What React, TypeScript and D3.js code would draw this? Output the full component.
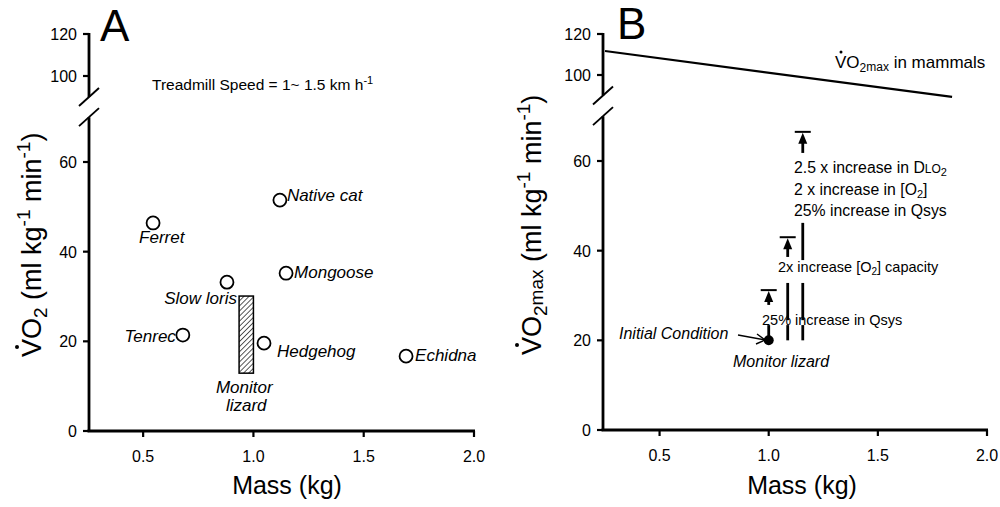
import React from 'react';
import * as d3 from 'd3';

const W = 1000;
const H = 507;
const FONT = "'Liberation Sans', Arial, Helvetica, sans-serif";

// ---------- Panel A data ----------
const speciesNames = ['Ferret', 'Native cat', 'Mongoose', 'Slow loris', 'Tenrec', 'Hedgehog', 'Echidna'];
const speciesMass = [0.545, 1.12, 1.148, 0.88, 0.68, 1.048, 1.692];
const speciesVO2 = [46.4, 51.5, 35.2, 33.2, 21.4, 19.6, 16.7];
const monitorMassRange = [0.935, 1.0];
const monitorVO2Range = [12.9, 30.1];

// ---------- Panel B data ----------
const mammalMass = [0.25, 1.84];
const mammalVO2max = [111.7, 89.3];
const lizardMass = 1.0;
const lizardVO2max = 20;
const stepMass = [1.0, 1.087, 1.156];
const stepTop = [31.2, 43.0, 66.5];
const stepSegments: number[][][] = [
  [[20, 23.4], [27.9, 31.2]],
  [[20, 23.4], [24.5, 32.8], [38.6, 43.0]],
  [[20, 23.4], [24.5, 32.8], [37.9, 46.2], [61.8, 66.5]],
];

// ---------- Axes ----------
const xDomain = [0.25, 2.0];
const xTicks = [0.5, 1.0, 1.5, 2.0];
const yTicksLower = [0, 20, 40, 60];
const yTicksUpper = [100, 120];
const lowerDomain = [0, 70];
const upperDomain = [90, 120];

// label layout (offsets from the data point, in px)
const labelLayout: Record<string, { dx: number; dy: number; anchor: string }> = {
  'Ferret': { dx: -14, dy: 20, anchor: 'start' },
  'Native cat': { dx: 7, dy: 1, anchor: 'start' },
  'Mongoose': { dx: 8, dy: 5, anchor: 'start' },
  'Slow loris': { dx: 10, dy: 22, anchor: 'end' },
  'Tenrec': { dx: -7, dy: 7, anchor: 'end' },
  'Hedgehog': { dx: 13, dy: 14, anchor: 'start' },
  'Echidna': { dx: 9, dy: 5, anchor: 'start' },
};

function makePanel(x0: number, x1: number, yZero: number, y60: number, y100: number, y120: number) {
  const x = d3.scaleLinear().domain(xDomain).range([x0, x1]);
  const yLow = d3.scaleLinear().domain([0, 60]).range([yZero, y60]);
  const yUp = d3.scaleLinear().domain([100, 120]).range([y100, y120]);
  return { x, yLow, yUp };
}

function Axes({ p, axisX }: { p: any; axisX: number }) {
  const { x, yLow, yUp } = p;
  const yBot = yLow(0);
  const lowTop = yLow(lowerDomain[1]);
  const upBot = yUp(upperDomain[0]);
  const upTop = yUp(120);
  const sw = 2.8;
  return (
    <g>
      <line x1={axisX - 1.5} x2={x(2.0) + 1} y1={yBot} y2={yBot} stroke="#000" strokeWidth={sw} />
      {xTicks.map((t) => (
        <g key={t}>
          <line x1={x(t)} x2={x(t)} y1={yBot} y2={yBot + 6} stroke="#000" strokeWidth={2.2} />
          <text x={x(t)} y={yBot + 31} textAnchor="middle" fontSize={16} fontFamily={FONT}>
            {t.toFixed(1)}
          </text>
        </g>
      ))}
      <line x1={axisX} x2={axisX} y1={yBot} y2={lowTop} stroke="#000" strokeWidth={sw} />
      <line x1={axisX} x2={axisX} y1={upTop - 1} y2={upBot} stroke="#000" strokeWidth={sw} />
      <line x1={axisX - 10} y1={upBot + 9} x2={axisX + 10} y2={upBot - 9} stroke="#000" strokeWidth={1.9} />
      <line x1={axisX - 10} y1={lowTop + 9} x2={axisX + 10} y2={lowTop - 9} stroke="#000" strokeWidth={1.9} />
      {yTicksLower.map((t) => (
        <g key={t}>
          <line x1={axisX - 6} x2={axisX} y1={yLow(t)} y2={yLow(t)} stroke="#000" strokeWidth={2.2} />
          <text x={axisX - 12} y={yLow(t) + 6} textAnchor="end" fontSize={16} fontFamily={FONT}>
            {t}
          </text>
        </g>
      ))}
      {yTicksUpper.map((t) => (
        <g key={t}>
          <line x1={axisX - 6} x2={axisX} y1={yUp(t)} y2={yUp(t)} stroke="#000" strokeWidth={2.2} />
          <text x={axisX - 12} y={yUp(t) + 6} textAnchor="end" fontSize={16} fontFamily={FONT}>
            {t}
          </text>
        </g>
      ))}
      <text x={(x(0.25) + x(2.0)) / 2 + 6} y={494} textAnchor="middle" fontSize={25} fontFamily={FONT}>
        Mass (kg)
      </text>
    </g>
  );
}

function YTitle({ bx, by, max }: { bx: number; by: number; max: boolean }) {
  const fs = 27;
  const sm = 19;
  return (
    <g transform={`translate(${bx},${by}) rotate(-90)`}>
      <text x={0} y={0} fontSize={fs} fontFamily={FONT}>
        <tspan>VO</tspan>
        <tspan fontSize={sm} dy={6}>2</tspan>
        {max ? (
          <>
            <tspan fontSize={sm} dy={-4}>max</tspan>
            <tspan dy={-2}> (ml kg</tspan>
          </>
        ) : (
          <tspan dy={-6}> (ml kg</tspan>
        )}
        <tspan fontSize={sm} dy={-11}>-1</tspan>
        <tspan dy={11}> min</tspan>
        <tspan fontSize={sm} dy={-11}>-1</tspan>
        <tspan dy={11}>)</tspan>
      </text>
      <circle cx={10} cy={-24} r={2} fill="#000" />
    </g>
  );
}

export default function App() {
  const A = makePanel(88, 474, 431, 162, 76, 34);
  const B = makePanel(605, 987, 430, 161, 75, 34);
  const axisXA = 89;
  const axisXB = 603;

  const mammalLine = d3
    .line<number>()
    .x((_, i) => B.x(mammalMass[i]))
    .y((v) => B.yUp(v));

  return (
    <svg
      width={W}
      height={H}
      viewBox={`0 0 ${W} ${H}`}
      style={{ position: 'absolute', left: 0, top: 0, background: '#fff' }}
      fontFamily={FONT}
    >
      <defs>
        <pattern id="hatch" patternUnits="userSpaceOnUse" width={3.6} height={3.6} patternTransform="rotate(45)">
          <line x1={0} y1={0} x2={0} y2={3.6} stroke="#000" strokeWidth={1.3} />
        </pattern>
      </defs>
      <rect x={0} y={0} width={W} height={H} fill="#fff" />

      {/* ================= Panel A ================= */}
      <text x={100} y={41} fontSize={44} fontFamily={FONT}>A</text>
      <Axes p={A} axisX={axisXA} />
      <YTitle bx={41} by={357} max={false} />
      <text x={152} y={90} fontSize={15.5} fontFamily={FONT}>
        Treadmill Speed = 1~ 1.5 km h<tspan fontSize={11} dy={-6}>-1</tspan>
      </text>

      <rect
        x={A.x(monitorMassRange[0])}
        y={A.yLow(monitorVO2Range[1])}
        width={A.x(monitorMassRange[1]) - A.x(monitorMassRange[0])}
        height={A.yLow(monitorVO2Range[0]) - A.yLow(monitorVO2Range[1])}
        fill="url(#hatch)"
        stroke="#000"
        strokeWidth={1.5}
      />
      <text
        x={(A.x(monitorMassRange[0]) + A.x(monitorMassRange[1])) / 2 - 2}
        y={A.yLow(monitorVO2Range[0]) + 20}
        textAnchor="middle"
        fontSize={17}
        fontStyle="italic"
      >
        Monitor
      </text>
      <text
        x={(A.x(monitorMassRange[0]) + A.x(monitorMassRange[1])) / 2}
        y={A.yLow(monitorVO2Range[0]) + 38}
        textAnchor="middle"
        fontSize={17}
        fontStyle="italic"
      >
        lizard
      </text>

      {speciesNames.map((n, i) => {
        const cx = A.x(speciesMass[i]);
        const cy = A.yLow(speciesVO2[i]);
        const L = labelLayout[n];
        return (
          <g key={n}>
            <circle cx={cx} cy={cy} r={6.5} fill="#fff" stroke="#000" strokeWidth={1.8} />
            <text x={cx + L.dx} y={cy + L.dy} textAnchor={L.anchor as any} fontSize={17} fontStyle="italic">
              {n}
            </text>
          </g>
        );
      })}

      {/* ================= Panel B ================= */}
      <text x={617} y={39} fontSize={44} fontFamily={FONT}>B</text>
      <Axes p={B} axisX={axisXB} />
      <YTitle bx={541} by={355} max={true} />

      <path d={mammalLine(mammalVO2max) || ''} fill="none" stroke="#000" strokeWidth={2.2} />
      <text x={835} y={68} fontSize={17}>
        VO<tspan fontSize={12} dy={4}>2</tspan>
        <tspan fontSize={12} dy={-1}>max</tspan>
        <tspan dy={-3}> in mammals</tspan>
      </text>
      <circle cx={841} cy={52} r={1.5} fill="#000" />

      {stepMass.map((m, i) => {
        const x = B.x(m);
        const yTop = B.yLow(stepTop[i]);
        const segs = stepSegments[i];
        return (
          <g key={i}>
            {segs.map((s, j) => {
              const isLast = j === segs.length - 1;
              const yA = B.yLow(s[0]);
              const yB = isLast ? yTop + 10 : B.yLow(s[1]);
              return <line key={j} x1={x} x2={x} y1={yA} y2={yB} stroke="#000" strokeWidth={2.8} />;
            })}
            <path d={`M${x},${yTop + 1}L${x - 4.5},${yTop + 12}L${x + 4.5},${yTop + 12}Z`} fill="#000" />
            <line x1={x - 8} x2={x + 8} y1={yTop} y2={yTop} stroke="#000" strokeWidth={2} />
          </g>
        );
      })}

      <circle cx={B.x(lizardMass)} cy={B.yLow(lizardVO2max)} r={5} fill="#000" />

      <text x={762} y={325} fontSize={14.5}>25% increase in Qsys</text>
      <text x={778} y={272} fontSize={14.5}>
        2x increase [O<tspan fontSize={10} dy={3}>2</tspan><tspan dy={-3}>] capacity</tspan>
      </text>
      <text x={794} y={173} fontSize={15.8}>
        2.5 x increase in D<tspan fontSize={12}>LO</tspan><tspan fontSize={11} dy={3}>2</tspan>
      </text>
      <text x={794} y={195} fontSize={15.8}>
        2 x increase in [O<tspan fontSize={11} dy={3}>2</tspan><tspan dy={-3}>]</tspan>
      </text>
      <text x={794} y={216} fontSize={15.8}>25% increase in Qsys</text>

      <text x={619} y={339} fontSize={16} fontStyle="italic">Initial Condition</text>
      <g stroke="#000" strokeWidth={1.4} fill="none">
        <line x1={738} y1={335} x2={765} y2={340} />
        <path d="M757,334 L765,340 L756,344" />
      </g>
      <text x={733} y={367} fontSize={16} fontStyle="italic">Monitor lizard</text>
    </svg>
  );
}
